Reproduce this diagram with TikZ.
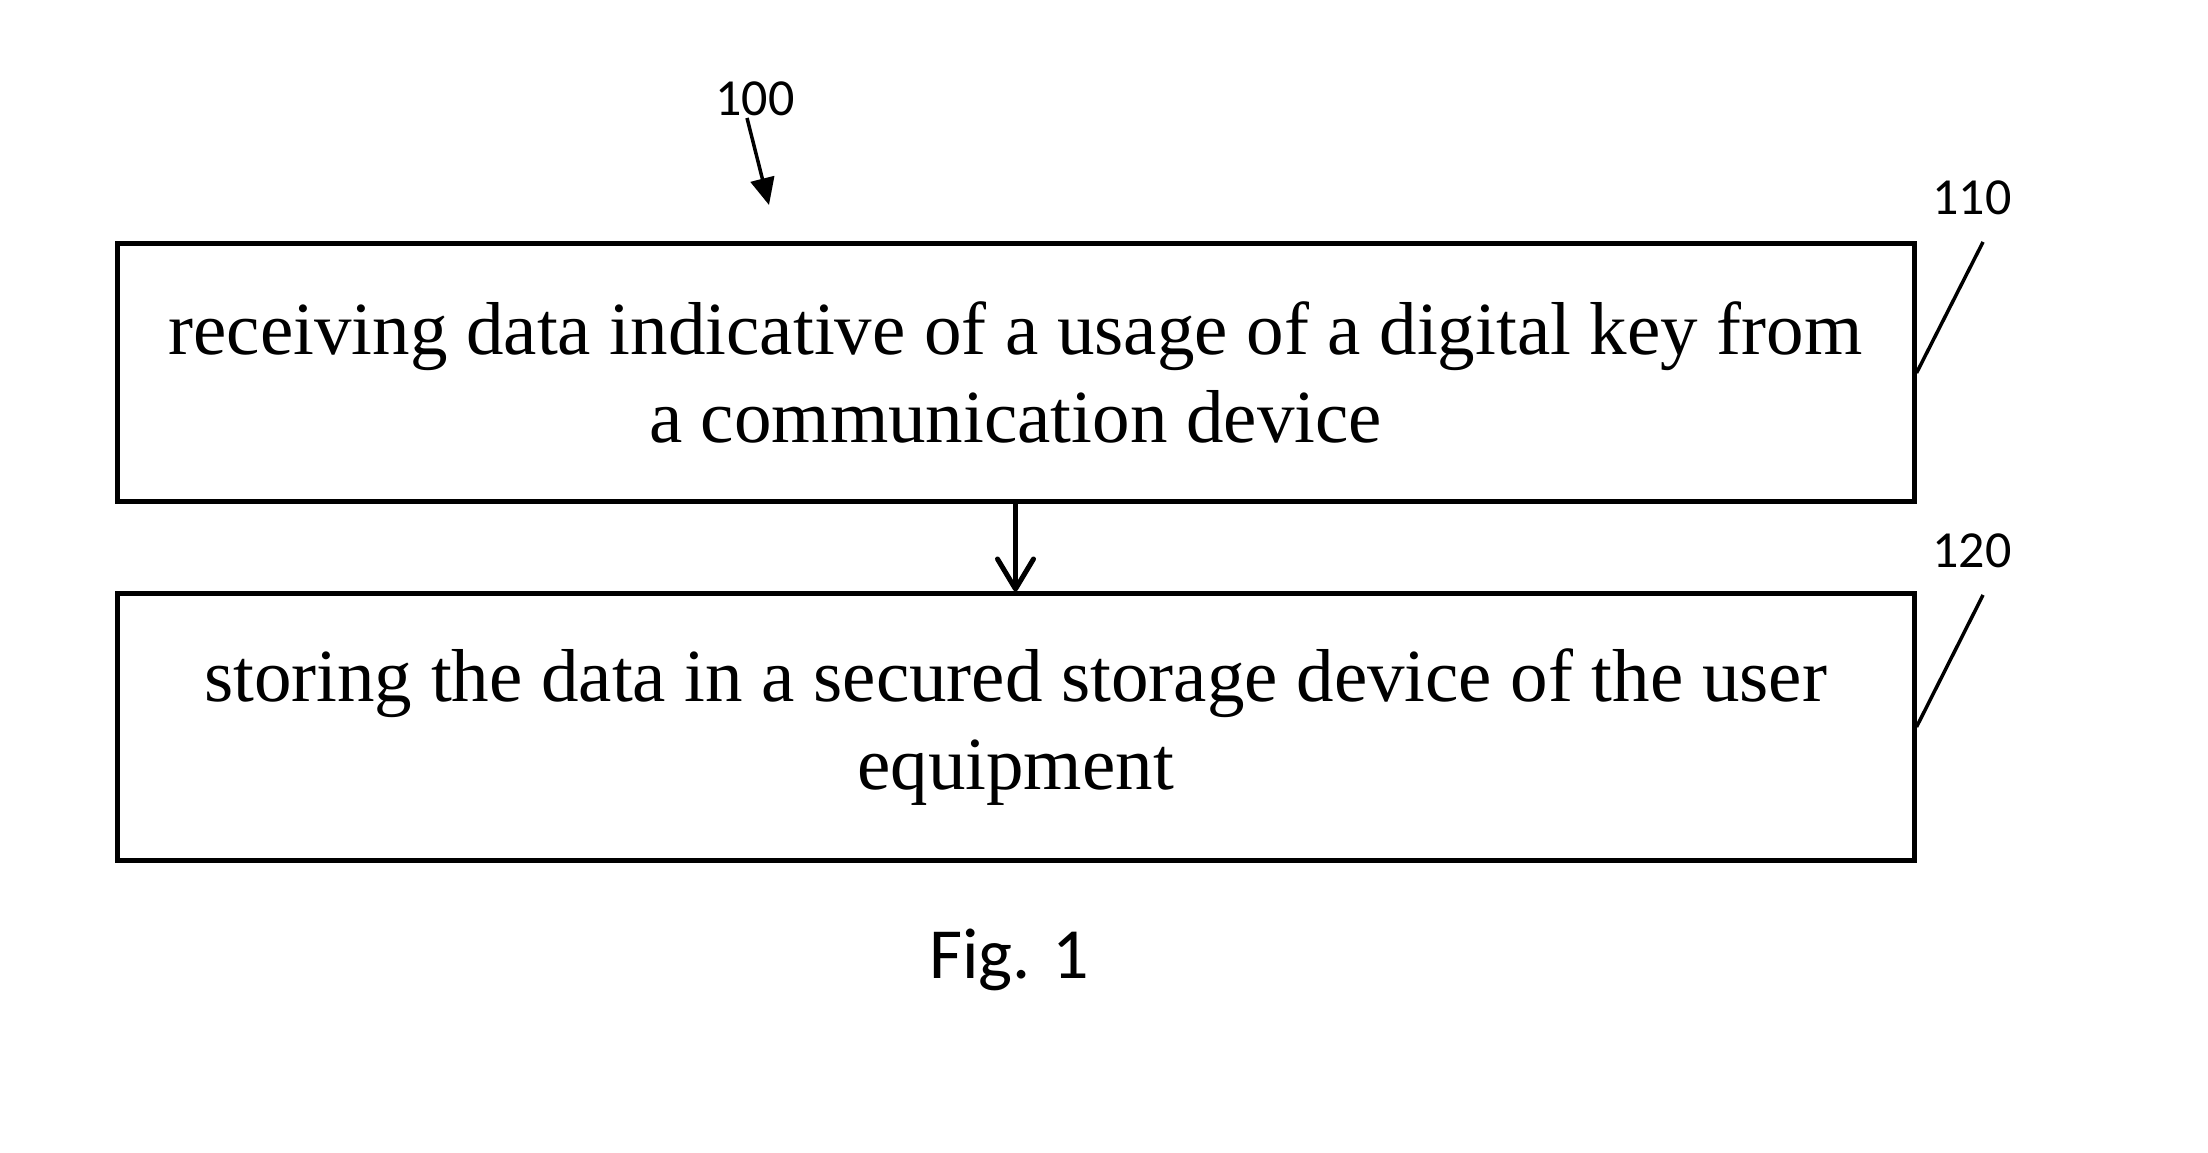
\documentclass[tikz,border=0pt]{standalone}
\usepackage{fontspec}
\setmainfont{Liberation Serif}
\newfontfamily\lblfont{Carlito}
\newcommand\mytightsp{\spaceskip=18.6pt\relax}
\usetikzlibrary{arrows.meta}
\begin{document}
\begin{tikzpicture}[x=1pt,y=1pt,
  stepbox/.style={draw=black,line width=5pt,minimum width=1797pt,inner sep=0pt},
  boxtext/.style={font=\fontsize{75}{88}\selectfont,text width=1790pt,align=center,inner sep=0pt,anchor=base},
  reflbl/.style={font=\lblfont\fontsize{52}{56}\selectfont,inner sep=0pt},
  leader/.style={line width=3.5pt},
  flow/.style={line width=5pt,-{Straight Barb[length=30pt,width=36pt,line cap=round,line join=round]}}
  ]
\useasboundingbox (0,0) rectangle (2208,1152);
\fill[white] (0,0) rectangle (2208,1152);
\node[stepbox,minimum height=258pt] (b1) at (1015.5,779) {};
\node[stepbox,minimum height=266pt] (b2) at (1015.5,425) {};
\node[boxtext] (t1) at (1015.5,797) {\mytightsp receiving data indicative of a usage of a digital key from\\ a communication device};
\node[boxtext] (t2) at (1015.5,450) {\mytightsp storing the data in a secured storage device of the user\\ equipment};
\draw[flow] (b1.south) -- (b2.north);
\node[reflbl] (l100) at (755,1053) {100};
\coordinate (a100s) at (747,1034);
\coordinate (a100e) at (769,947);
\draw[line width=3.5pt,-{Triangle[length=27pt,width=24pt]}] (a100s) -- (a100e);
\node[reflbl] (l110) at (1972,954) {110};
\coordinate (c110) at (1983,910);
\draw[leader] (c110) -- (b1.east);
\node[reflbl] (l120) at (1972,601) {120};
\coordinate (c120) at (1983,557);
\draw[leader] (c120) -- (b2.east);
\node[font=\lblfont\fontsize{72}{80}\selectfont,inner sep=0pt] (fig) at (1009,192) {Fig. 1};
\end{tikzpicture}
\end{document}
